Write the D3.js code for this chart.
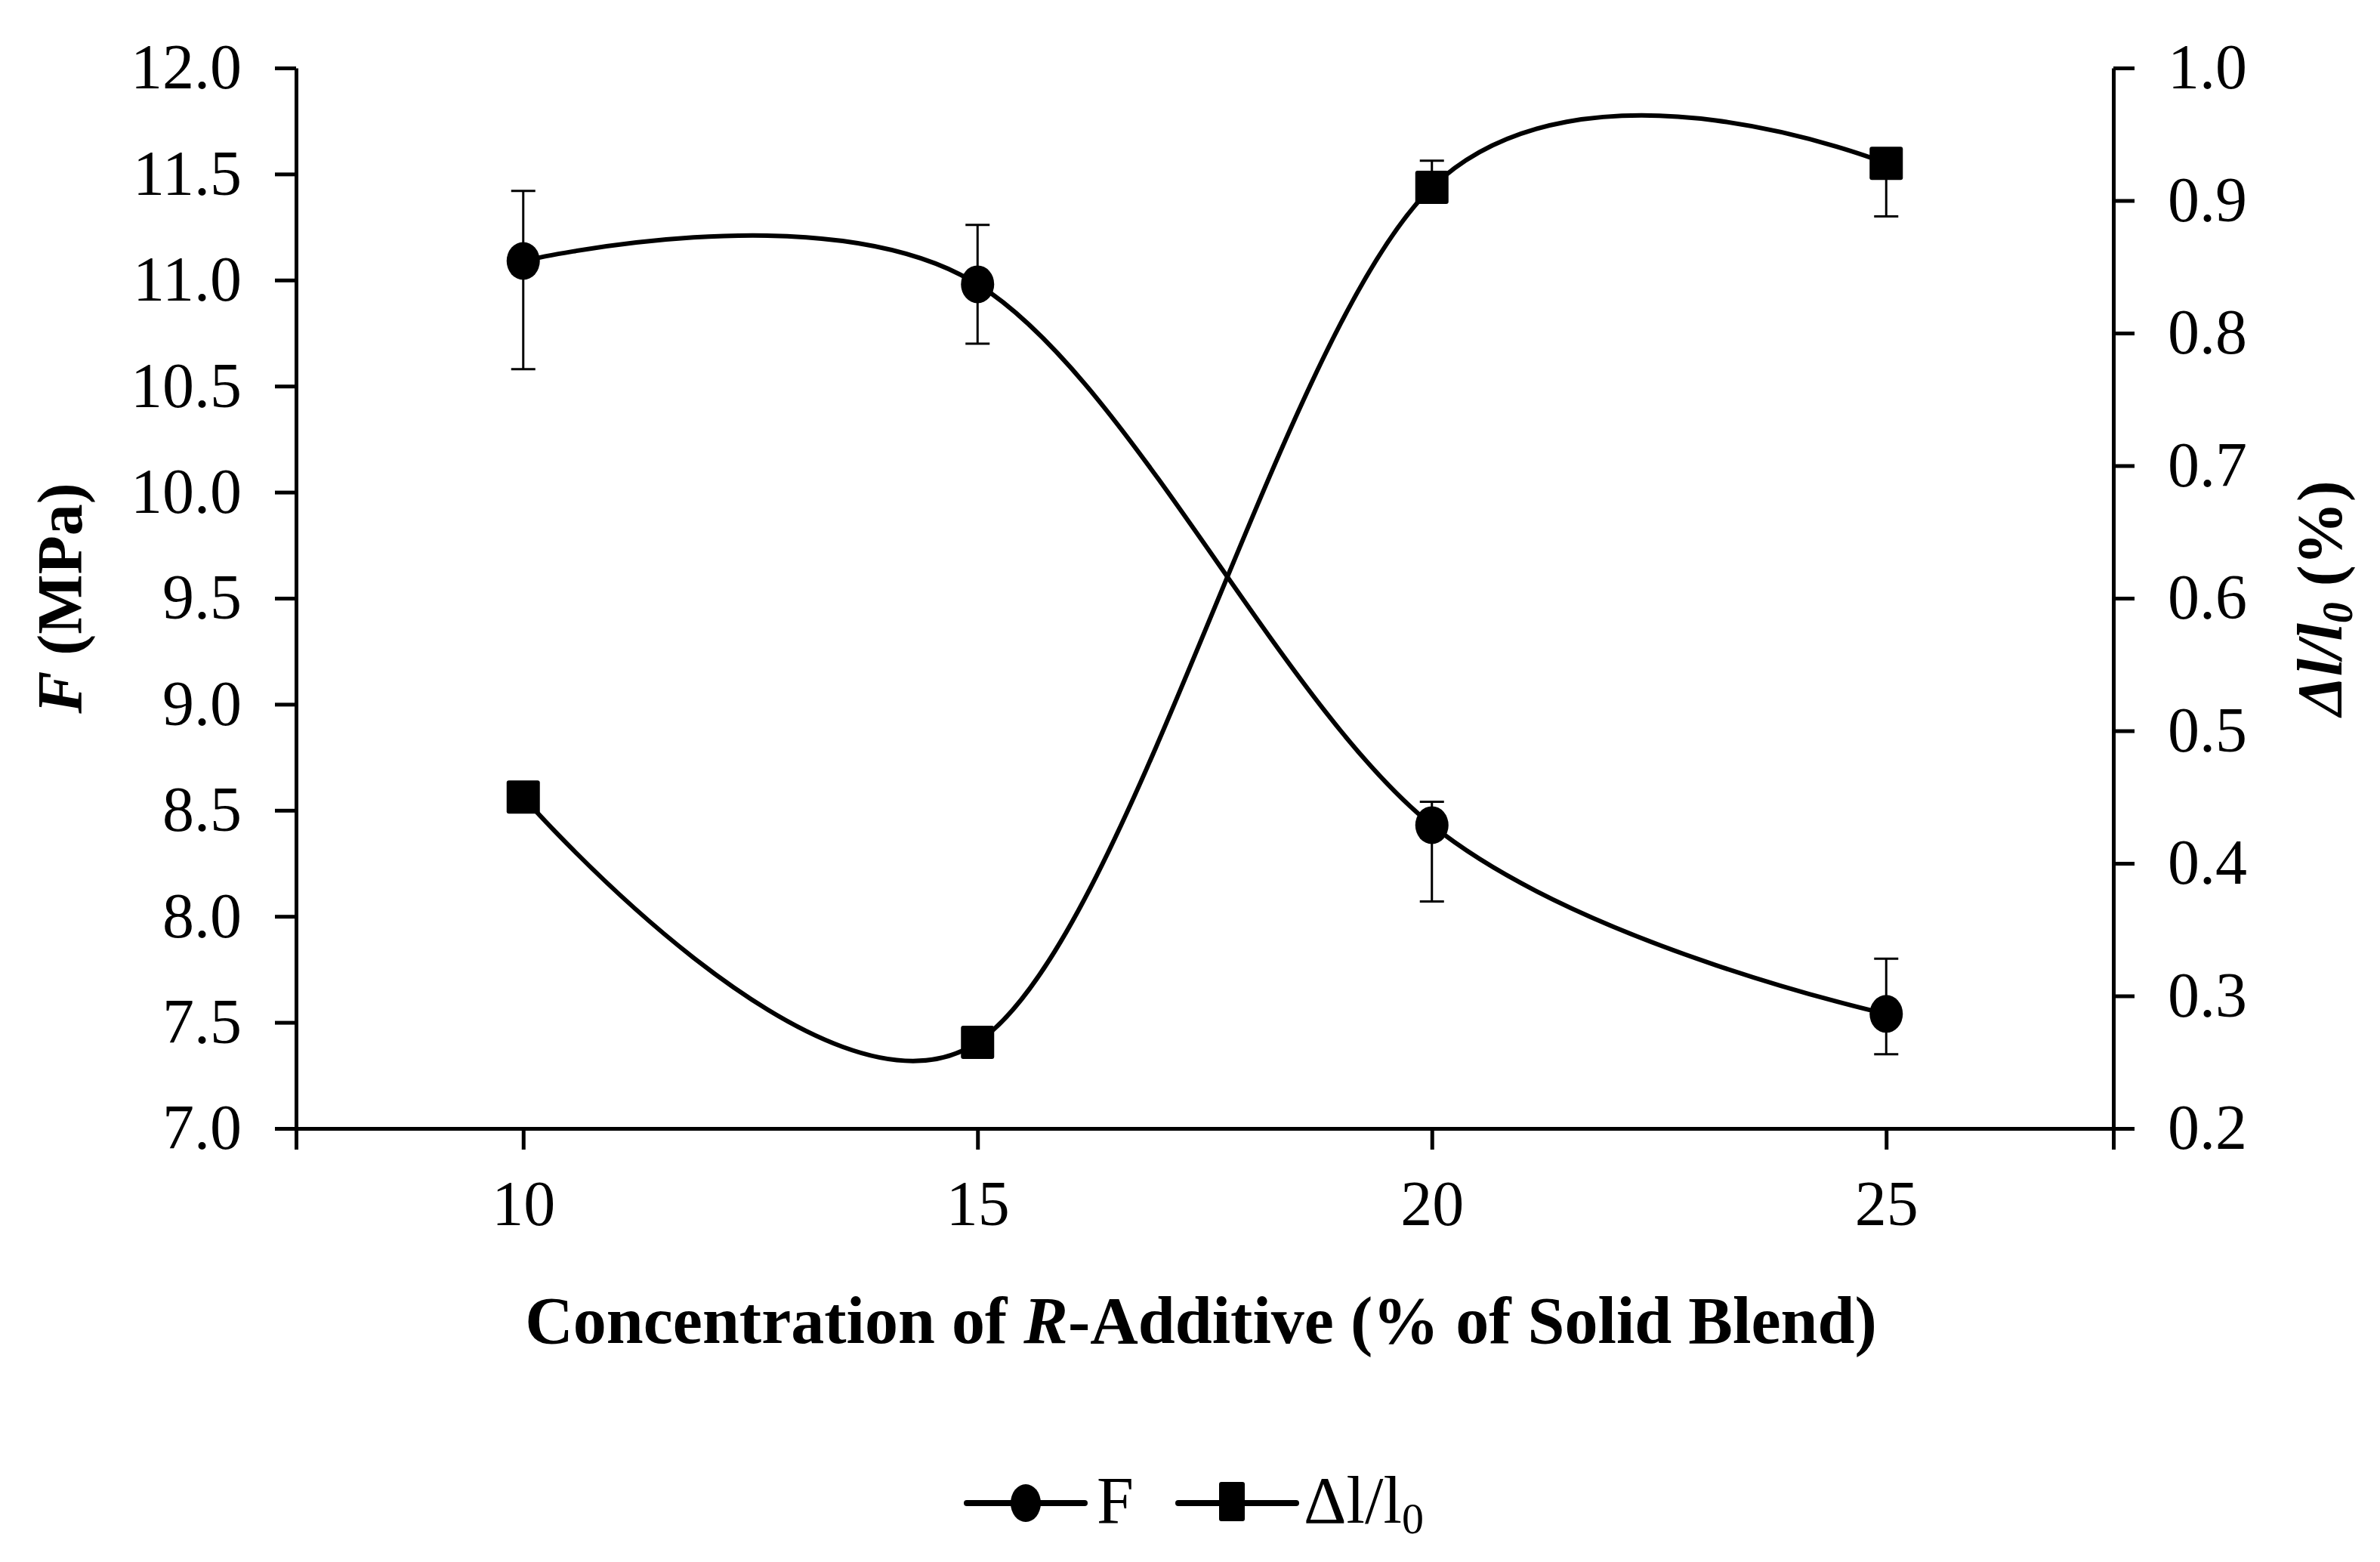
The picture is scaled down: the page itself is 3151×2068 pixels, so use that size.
<!DOCTYPE html>
<html><head><meta charset="utf-8">
<script src="https://cdn.jsdelivr.net/npm/d3@7"></script>
<style>body{margin:0;background:#fff}text{font-family:"Liberation Serif","DejaVu Serif",serif;fill:#000}</style>
</head><body>
<svg id="c" width="3151" height="2068"></svg>
<script>
const conc = [10, 15, 20, 25]
const forceVals = [11.09, 10.98, 8.43, 7.54]
const forceHi = [11.42, 11.26, 8.54, 7.80]
const forceLo = [10.58, 10.70, 8.07, 7.35]
const elongVals = [0.45, 0.265, 0.91, 0.928]
const elongHi = [0.45, 0.265, 0.93, 0.928]
const elongLo = [0.45, 0.265, 0.91, 0.888]
const leftTicks = d3.range(7, 12.01, 0.5)
const rightTicks = d3.range(0.2, 1.001, 0.1)

const svg = d3.select('#c')
const L = 392, R = 2798, T = 90, B = 1494

const x = d3.scaleLinear().domain([7.5, 27.5]).range([L, R])
const yL = d3.scaleLinear().domain([7, 12]).range([B, T])
const yR = d3.scaleLinear().domain([0.2, 1.0]).range([B, T])

const fs = 84

// axes
const xAxis = svg.append('g').attr('transform', `translate(0,${B})`)
  .call(d3.axisBottom(x).tickValues([10, 15, 20, 25]).tickSize(28).tickSizeOuter(28).tickPadding(40).tickFormat(d3.format('d')))
svg.append('g').attr('transform', `translate(${L},0)`)
  .call(d3.axisLeft(yL).tickValues(leftTicks).tickSize(28).tickSizeOuter(0).tickPadding(44).tickFormat(d3.format('.1f')))
svg.append('g').attr('transform', `translate(${R},0)`)
  .call(d3.axisRight(yR).tickValues(rightTicks).tickSize(28).tickSizeOuter(0).tickPadding(44).tickFormat(d3.format('.1f')))
svg.selectAll('.domain, .tick line').attr('stroke', '#000').attr('stroke-width', 5)
svg.selectAll('.tick text').style('font-size', fs + 'px').attr('fill', '#000')
  .style('font-family', '"Liberation Serif",serif')

// titles
svg.append('text').attr('x', (L + R) / 2 - 5).attr('y', 1778).attr('text-anchor', 'middle')
  .style('font-size', '88px').style('font-weight', 'bold')
  .html('Concentration of <tspan font-style="italic">R</tspan>-Additive (% of Solid Blend)')
svg.append('text').attr('transform', `translate(108,${(T + B) / 2}) rotate(-90)`).attr('text-anchor', 'middle')
  .style('font-size', '84px').style('font-weight', 'bold')
  .html('<tspan font-style="italic">F</tspan> (MPa)')
svg.append('text').attr('transform', `translate(3100,${(T + B) / 2}) rotate(-90)`).attr('text-anchor', 'middle')
  .style('font-size', '84px').style('font-weight', 'bold')
  .html('<tspan font-style="italic">Δl/l</tspan><tspan font-style="italic" font-size="56px" dy="14">0</tspan><tspan dy="-14"> (%)</tspan>')

const curve = d3.curveCardinal.tension(0)
const lineF = d3.line().x((d, i) => x(conc[i])).y(d => yL(d)).curve(curve)
const lineE = d3.line().x((d, i) => x(conc[i])).y(d => yR(d)).curve(curve)

svg.append('path').attr('d', lineF(forceVals)).attr('fill', 'none').attr('stroke', '#000').attr('stroke-width', 6)
svg.append('path').attr('d', lineE(elongVals)).attr('fill', 'none').attr('stroke', '#000').attr('stroke-width', 6)

// error bars
function errBars (hi, lo, y) {
  const g = svg.append('g').attr('stroke', '#000').attr('stroke-width', 3)
  conc.forEach((c, i) => {
    if (hi[i] === lo[i]) return
    g.append('line').attr('x1', x(c)).attr('x2', x(c)).attr('y1', y(hi[i])).attr('y2', y(lo[i]))
    g.append('line').attr('x1', x(c) - 16).attr('x2', x(c) + 16).attr('y1', y(hi[i])).attr('y2', y(hi[i]))
    g.append('line').attr('x1', x(c) - 16).attr('x2', x(c) + 16).attr('y1', y(lo[i])).attr('y2', y(lo[i]))
  })
}
errBars(forceHi, forceLo, yL)
errBars(elongHi, elongLo, yR)

svg.append('g').selectAll('ellipse').data(forceVals).join('ellipse')
  .attr('cx', (d, i) => x(conc[i])).attr('cy', d => yL(d)).attr('rx', 22).attr('ry', 25).attr('fill', '#000')
svg.append('g').selectAll('rect').data(elongVals).join('rect')
  .attr('x', (d, i) => x(conc[i]) - 22).attr('y', d => yR(d) - 22).attr('width', 44).attr('height', 44).attr('rx', 3).attr('fill', '#000')

// legend
const lg = svg.append('g')
const ly = 1990
lg.append('line').attr('x1', 1280).attr('x2', 1436).attr('y1', ly).attr('y2', ly).attr('stroke', '#000').attr('stroke-width', 8).attr('stroke-linecap', 'round')
lg.append('ellipse').attr('cx', 1358).attr('cy', ly).attr('rx', 20).attr('ry', 25)
lg.append('text').attr('x', 1452).attr('y', 2016).style('font-size', '88px').text('F')
lg.append('line').attr('x1', 1560).attr('x2', 1716).attr('y1', ly).attr('y2', ly).attr('stroke', '#000').attr('stroke-width', 8).attr('stroke-linecap', 'round')
lg.append('rect').attr('x', 1614).attr('y', ly - 28).attr('width', 34).attr('height', 52).attr('rx', 3)
lg.append('text').attr('x', 1726).attr('y', 2016).style('font-size', '88px')
  .html('Δl/l<tspan font-size="58px" dy="14">0</tspan>')
</script>
</body></html>
